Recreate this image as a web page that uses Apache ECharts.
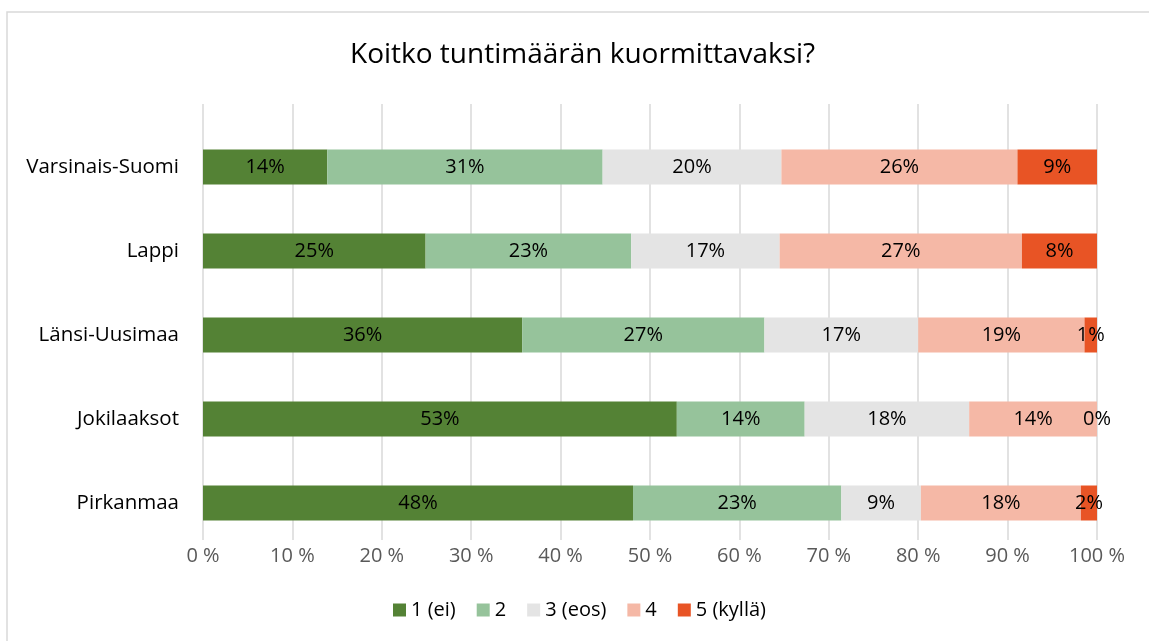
<!DOCTYPE html>
<html>
<head>
<meta charset="utf-8">
<script src="https://cdn.jsdelivr.net/npm/echarts@6/dist/echarts.min.js"></script>
<style>
html,body{margin:0;padding:0;background:#fff;}
#chart{width:1149px;height:641px;}
</style>
</head>
<body>
<div id="chart"></div>
<script>
const titleText = 'Koitko tuntimäärän kuormittavaksi?';
const categories = ['Varsinais-Suomi', 'Lappi', 'Länsi-Uusimaa', 'Jokilaaksot', 'Pirkanmaa'];
const seriesNames = ['1 (ei)', '2', '3 (eos)', '4', '5 (kyllä)'];
const colors = ['#548235', '#96C39B', '#E4E4E4', '#F5B8A6', '#E85425'];
const s1 = [13.9, 24.9, 35.7, 53.0, 48.1];
const s2 = [30.8, 23.0, 27.1, 14.3, 23.3];
const s3 = [20.0, 16.6, 17.2, 18.4, 8.9];
const s4 = [26.4, 27.1, 18.6, 14.3, 17.9];
const s5 = [8.9, 8.4, 1.4, 0.0, 1.8];
const seriesValues = [s1, s2, s3, s4, s5];
const axisMin = 0, axisMax = 100, axisInterval = 10;

const FONT = '"Open Sans", "Noto Sans", sans-serif';
const chart = echarts.init(document.getElementById('chart'), null, {renderer: 'canvas'});

const series = seriesNames.map((name, i) => ({
  name: name,
  type: 'bar',
  stack: 'total',
  xAxisIndex: 1,
  yAxisIndex: 1,
  barWidth: 35,
  itemStyle: {color: colors[i]},
  label: {
    show: true,
    position: 'inside',
    color: '#000',
    fontFamily: FONT,
    fontSize: 20,
    formatter: p => Math.round(p.value) + '%'
  },
  emphasis: {disabled: true},
  data: seriesValues[i]
}));

chart.setOption({
  animation: false,
  backgroundColor: '#fff',
  textStyle: {fontFamily: FONT},
  title: {
    text: titleText,
    left: 345,
    top: 36,
    textStyle: {fontFamily: FONT, fontSize: 28, fontWeight: 'normal', color: '#000'}
  },
  graphic: [{
    type: 'rect',
    shape: {x: 7, y: 12, width: 1200, height: 700},
    style: {fill: 'none', stroke: '#d9d9d9', lineWidth: 1.5},
    silent: true,
    z: -1
  }],
  legend: {
    data: seriesNames,
    left: 388,
    top: 595,
    icon: 'rect',
    itemWidth: 13,
    itemHeight: 13,
    itemGap: 21,
    textStyle: {fontFamily: FONT, fontSize: 20, color: '#000'}
  },
  grid: [
    {left: 203, right: 52, top: 104, bottom: 101, containLabel: false},
    {left: 203, right: 52, top: 125, bottom: 96, containLabel: false}
  ],
  xAxis: [
    {
      gridIndex: 0, type: 'value', min: axisMin, max: axisMax, interval: axisInterval,
      axisLine: {show: false}, axisTick: {show: false},
      splitLine: {show: true, lineStyle: {color: '#d9d9d9', width: 1.5}},
      axisLabel: {formatter: '{value} %', color: '#595959', fontFamily: FONT, fontSize: 20, margin: 6}
    },
    {
      gridIndex: 1, type: 'value', min: axisMin, max: axisMax, show: false
    }
  ],
  yAxis: [
    {gridIndex: 0, type: 'value', show: false},
    {
      gridIndex: 1, type: 'category', data: categories, inverse: true,
      axisLine: {show: false}, axisTick: {show: false},
      axisLabel: {color: '#000', fontFamily: FONT, fontSize: 20.5, margin: 24}
    }
  ],
  series: series
});
</script>
</body>
</html>
